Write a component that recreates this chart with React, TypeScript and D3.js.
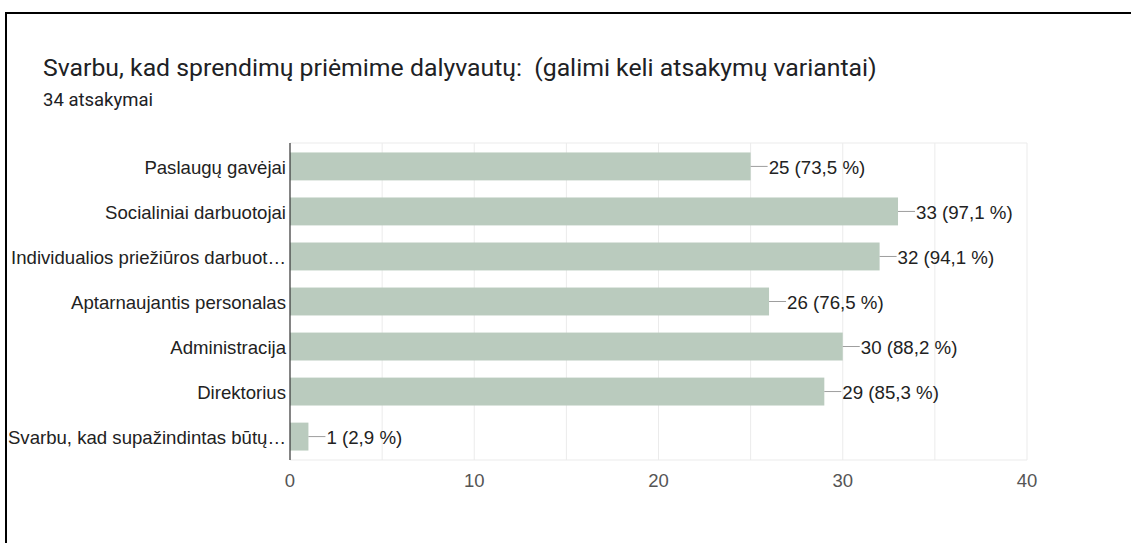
import React from "react";
import * as d3 from "d3";

const title = "Svarbu, kad sprendimų priėmime dalyvautų:  (galimi keli atsakymų variantai)";
const subtitle = "34 atsakymai";
const categories = [
  "Paslaugų gavėjai",
  "Socialiniai darbuotojai",
  "Individualios priežiūros darbuot…",
  "Aptarnaujantis personalas",
  "Administracija",
  "Direktorius",
  "Svarbu, kad supažindintas būtų…",
];
const counts = [25, 33, 32, 26, 30, 29, 1];
const percents = ["73,5", "97,1", "94,1", "76,5", "88,2", "85,3", "2,9"];
const ticks = [0, 10, 20, 30, 40];
const gridValues = [5, 10, 15, 20, 25, 30, 35, 40];

const W = 1131;
const H = 543;
const plot = { left: 290, right: 1027, top: 143, bottom: 460 };

export default function App() {
  const x = d3.scaleLinear().domain([0, 40]).range([plot.left, plot.right]);
  const y = d3
    .scaleBand<string>()
    .domain(categories)
    .range([plot.top, plot.bottom])
    .paddingInner(0.38)
    .paddingOuter(0.21);
  const labelFont = "'Liberation Sans', Arial, sans-serif";
  return (
    <svg
      width={W}
      height={H}
      style={{ position: "absolute", left: 0, top: 0, background: "#fff" }}
    >
      <rect x={6} y={13} width={W + 20} height={H + 20} fill="#fff" stroke="#000" strokeWidth={2} />
      <text
        x={43}
        y={76}
        fontFamily="Roboto, sans-serif"
        fontSize={24.8}
        fill="#202124"
        style={{ whiteSpace: "pre" }}
      >
        {title}
      </text>
      <text x={43} y={106} fontFamily="Roboto, sans-serif" fontSize={18.5} fill="#202124">
        {subtitle}
      </text>
      {gridValues.map((g) => (
        <line key={g} x1={x(g)} x2={x(g)} y1={plot.top} y2={plot.bottom} stroke="#ebebeb" strokeWidth={1} />
      ))}
      <line x1={plot.left} x2={plot.right} y1={plot.top} y2={plot.top} stroke="#ebebeb" />
      <line x1={plot.left} x2={plot.right} y1={plot.bottom} y2={plot.bottom} stroke="#ebebeb" />
      {categories.map((c, i) => {
        const by = y(c)!;
        const bh = y.bandwidth();
        const xe = x(counts[i]);
        const cy = by + bh / 2;
        return (
          <g key={c}>
            <rect x={plot.left} y={by} width={xe - plot.left} height={bh} fill="#bacbbe" />
            <line x1={xe} x2={xe + 17} y1={cy} y2={cy} stroke="#9e9e9e" strokeWidth={1} />
            <text x={xe + 18} y={cy + 7.5} fontFamily={labelFont} fontSize={18.7} fill="#222">
              {`${counts[i]} (${percents[i]} %)`}
            </text>
            <text x={286} y={cy + 7.5} textAnchor="end" fontFamily={labelFont} fontSize={18.6} fill="#222">
              {c}
            </text>
          </g>
        );
      })}
      <line x1={plot.left} x2={plot.left} y1={plot.top} y2={plot.bottom} stroke="#333" strokeWidth={1.2} />
      {ticks.map((t) => (
        <text key={t} x={x(t)} y={487} textAnchor="middle" fontFamily={labelFont} fontSize={18.5} fill="#555">
          {t}
        </text>
      ))}
    </svg>
  );
}
